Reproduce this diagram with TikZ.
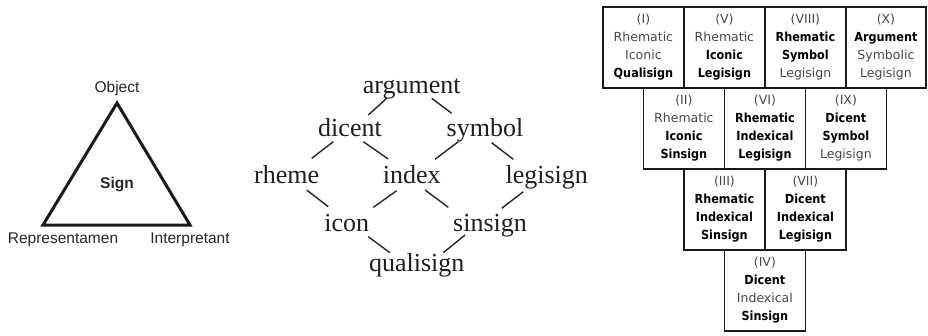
\documentclass[tikz,border=0pt]{standalone}
\usepackage{fontspec}
\setmainfont{Liberation Serif}
\newfontfamily\arialf{Liberation Sans}
\newfontfamily\boxf{DejaVu Sans}
\newfontfamily\boxbf{DejaVu Sans Condensed Bold}
\newcommand\bb[1]{\textcolor{black}{\boxbf #1}}
\tikzset{
  cell/.style={draw=black!90, line width=1.8pt, minimum width=81pt, minimum height=81pt,
    inner sep=0pt, anchor=north west, align=center,
    font=\boxf\fontsize{12.5}{18}\selectfont, text=black!72},
  word/.style={inner sep=0pt, text height=20pt, text depth=4pt,
    font=\fontsize{26}{30}\selectfont, text=black!88},
  conn/.style={line width=1.4pt, draw=black!85},
  tlabel/.style={inner sep=0pt, anchor=base, font=\arialf\fontsize{15.5}{18}\selectfont, text=black!85},
}
\begin{document}
\begin{tikzpicture}[x=1pt,y=-1pt]
\useasboundingbox (0,0) rectangle (928,335);
% ---- triangle ----
\coordinate (apex) at (117,103);
\coordinate (bl) at (43,225);
\coordinate (br) at (190,225);
\draw[line width=3pt, line join=miter, draw=black!90] (apex) -- (bl) -- (br) -- cycle;
\node[tlabel] (obj) at (117,92.5) {Object};
\node[tlabel, font=\arialf\bfseries\fontsize{15.5}{18}\selectfont] (sign) at (117,188) {Sign};
\node[tlabel] (rep) at (63,243) {Representamen};
\node[tlabel] (int) at (190,243) {Interpretant};
% ---- lattice ----
\node[word] (argument) at (411.7,85) {argument};
\node[word] (dicent) at (350,128.3) {dicent};
\node[word] (symbol) at (485,128.3) {symbol};
\node[word] (rheme) at (286.7,175) {rheme};
\node[word] (index) at (411.7,175) {index};
\node[word] (legisign) at (546.7,175) {legisign};
\node[word] (icon) at (346.7,223.3) {icon};
\node[word] (sinsign) at (490,223.3) {sinsign};
\node[word] (qualisign) at (416.7,263.3) {qualisign};
\draw[conn] ([shift={(-25,13.3)}]argument.center) -- ([shift={(18.3,-13.3)}]dicent.center);
\draw[conn] ([shift={(20,13.3)}]argument.center) -- ([shift={(-33.3,-15)}]symbol.center);
\draw[conn] ([shift={(-16.7,13.4)}]dicent.center) -- ([shift={(25,-16.7)}]rheme.center);
\draw[conn] ([shift={(13.3,13.4)}]dicent.center) -- ([shift={(-23.4,-16)}]index.center);
\draw[conn] ([shift={(-26.7,13.4)}]symbol.center) -- ([shift={(23.3,-15.7)}]index.center);
\draw[conn] ([shift={(6.7,14.4)}]symbol.center) -- ([shift={(-33.4,-15.7)}]legisign.center);
\draw[conn] ([shift={(20,15)}]rheme.center) -- ([shift={(-18.4,-16.6)}]icon.center);
\draw[conn] ([shift={(-15,15.7)}]index.center) -- ([shift={(26.6,-16)}]icon.center);
\draw[conn] ([shift={(13.3,15)}]index.center) -- ([shift={(-41.7,-16)}]sinsign.center);
\draw[conn] ([shift={(-23.4,16.7)}]legisign.center) -- ([shift={(11.7,-15)}]sinsign.center);
\draw[conn] ([shift={(21.6,13.4)}]icon.center) -- ([shift={(-26.7,-10.6)}]qualisign.center);
\draw[conn] ([shift={(-25,11.7)}]sinsign.center) -- ([shift={(26.6,-10.6)}]qualisign.center);
% ---- classes ----
\node[cell] (c1) at (602,6) {(I)\\Rhematic\\Iconic\\\bb{Qualisign}};
\node[cell] (c5) at (683,6) {(V)\\Rhematic\\\bb{Iconic}\\\bb{Legisign}};
\node[cell] (c8) at (764,6) {(VIII)\\\bb{Rhematic}\\\bb{Symbol}\\Legisign};
\node[cell, minimum width=80pt] (c10) at (845,6) {(X)\\\bb{Argument}\\Symbolic\\Legisign};
\node[cell] (c2) at (642.5,87) {(II)\\Rhematic\\\bb{Iconic}\\\bb{Sinsign}};
\node[cell] (c6) at (723.5,87) {(VI)\\\bb{Rhematic}\\\bb{Indexical}\\\bb{Legisign}};
\node[cell] (c9) at (804.5,87) {(IX)\\\bb{Dicent}\\\bb{Symbol}\\Legisign};
\node[cell] (c3) at (683,168) {(III)\\\bb{Rhematic}\\\bb{Indexical}\\\bb{Sinsign}};
\node[cell] (c7) at (764,168) {(VII)\\\bb{Dicent}\\\bb{Indexical}\\\bb{Legisign}};
\node[cell] (c4) at (723.5,249) {(IV)\\\bb{Dicent}\\Indexical\\\bb{Sinsign}};
\end{tikzpicture}
\end{document}
